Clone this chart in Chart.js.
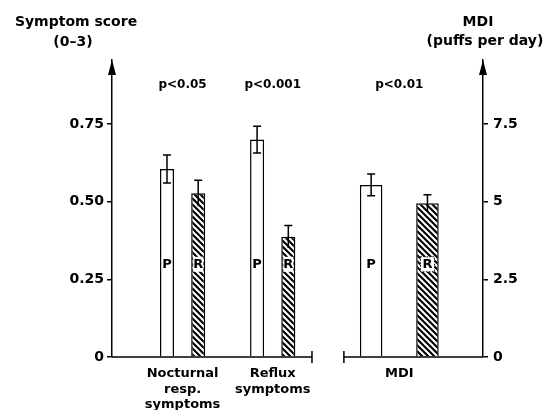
<!DOCTYPE html>
<html>
<head>
<meta charset="utf-8">
<script src="https://cdn.jsdelivr.net/npm/chart.js@4.4.1/dist/chart.umd.min.js"></script>
<style>
  html, body { margin: 0; padding: 0; background: #fff; }
  #wrap { width: 544px; height: 410px; position: relative; }
</style>
</head>
<body>
<div id="wrap"><canvas id="chart"></canvas></div>
<script>
// Values
const categories = [['Nocturnal', 'resp.', 'symptoms'], ['Reflux', 'symptoms']];
const symptomP = [0.605, 0.70];
const symptomPErr = [0.045, 0.043];
const symptomR = [0.527, 0.387];
const symptomRErr = [0.042, 0.036];
const symptomPValues = ['p<0.05', 'p<0.001'];

const mdiCategory = 'MDI';
const mdiP = [5.54];
const mdiPErr = [0.35];
const mdiR = [4.95];
const mdiRErr = [0.27];
const mdiPValues = ['p<0.01'];

const leftTicks = [0, 0.25, 0.5, 0.75];
const rightTicks = [0, 2.5, 5, 7.5];
const barLetters = ['P', 'R'];

// Layout: slot of each group along the x axis, and where the baseline breaks
const groupSlots = [1, 2];
const mdiSlots = [3.405];
const leftPanelEnd = 2.436;
const rightPanelStart = 2.79;
const letterLevel = 0.3;

const FONT = '"DejaVu Sans", sans-serif';
const canvas = document.getElementById('chart');
const ctx = canvas.getContext('2d');

function makeHatch() {
    const n = 6;
    const c = document.createElement('canvas');
    c.width = n; c.height = n;
    const g = c.getContext('2d');
    g.fillStyle = '#fff';
    g.fillRect(0, 0, n, n);
    g.strokeStyle = '#000';
    g.lineWidth = 2.1;
    g.beginPath();
    g.moveTo(-1, -1); g.lineTo(n + 1, n + 1);
    g.moveTo(-1, n - 1); g.lineTo(1, n + 1);
    g.moveTo(n - 1, -1); g.lineTo(n + 1, 1);
    g.stroke();
    return ctx.createPattern(c, 'repeat');
}
const hatch = makeHatch();

const points = (xs, ys) => ys.map((y, i) => ({ x: xs[i], y: y }));

const common = {
    borderColor: '#000',
    borderWidth: 1.5,
    skipNull: true,
    categoryPercentage: 0.693,
    barPercentage: 0.45
};

const datasets = [
    Object.assign({ label: 'P', data: points(groupSlots, symptomP), err: symptomPErr, yAxisID: 'y', backgroundColor: '#fff', letter: barLetters[0] }, common),
    Object.assign({ label: 'R', data: points(groupSlots, symptomR), err: symptomRErr, yAxisID: 'y', backgroundColor: hatch, letter: barLetters[1], hatched: true }, common),
    Object.assign({}, common, { label: 'P', data: points(mdiSlots, mdiP), err: mdiPErr, yAxisID: 'y2', backgroundColor: '#fff', letter: barLetters[0], categoryPercentage: 1.25, barPercentage: 0.40 }),
    Object.assign({}, common, { label: 'R', data: points(mdiSlots, mdiR), err: mdiRErr, yAxisID: 'y2', backgroundColor: hatch, letter: barLetters[1], hatched: true, boxed: true, categoryPercentage: 1.25, barPercentage: 0.40 })
];

const allSlots = groupSlots.concat(mdiSlots);
const allLabels = categories.concat([mdiCategory]);
const allPValues = symptomPValues.concat(mdiPValues);

const decorations = {
    id: 'decorations',
    afterDatasetsDraw(chart) {
        const c = chart.ctx;
        const area = chart.chartArea;
        const xs = chart.scales.x;
        c.save();
        c.strokeStyle = '#000';
        c.fillStyle = '#000';
        c.lineWidth = 1.5;

        // error bars and P/R letters
        chart.data.datasets.forEach((ds, di) => {
            const meta = chart.getDatasetMeta(di);
            const ys = chart.scales[ds.yAxisID];
            meta.data.forEach((bar, i) => {
                const v = ds.data[i].y;
                const top = ys.getPixelForValue(v + ds.err[i]);
                const bot = ys.getPixelForValue(v - ds.err[i]);
                c.beginPath();
                c.moveTo(bar.x, top); c.lineTo(bar.x, bot);
                c.moveTo(bar.x - 4, top); c.lineTo(bar.x + 4, top);
                if (!ds.hatched) { c.moveTo(bar.x - 4, bot); c.lineTo(bar.x + 4, bot); }
                c.stroke();

                const ly = chart.scales.y.getPixelForValue(letterLevel);
                c.font = 'bold 13px ' + FONT;
                c.textAlign = 'center';
                c.textBaseline = 'middle';
                if (ds.hatched) {
                    const w = ds.boxed ? 14 : 10;
                    c.fillStyle = '#fff';
                    c.fillRect(bar.x - w / 2, ly - 7, w, 15);
                    if (ds.boxed) {
                        c.save();
                        c.lineWidth = 1;
                        c.setLineDash([1.5, 1.5]);
                        c.strokeRect(bar.x - w / 2, ly - 7, w, 15);
                        c.restore();
                    }
                    c.fillStyle = '#000';
                }
                c.fillText(ds.letter, bar.x, ly + 1);
            });
        });

        // broken baseline with end caps
        const y0 = area.bottom;
        const xEnd = xs.getPixelForValue(leftPanelEnd);
        const xStart = xs.getPixelForValue(rightPanelStart);
        c.beginPath();
        c.moveTo(area.left, y0); c.lineTo(xEnd, y0);
        c.moveTo(xEnd, y0 - 6); c.lineTo(xEnd, y0 + 6);
        c.moveTo(xStart, y0); c.lineTo(area.right, y0);
        c.moveTo(xStart, y0 - 6); c.lineTo(xStart, y0 + 6);
        c.stroke();

        // arrow heads on both value axes
        [area.left, area.right].forEach(ax => {
            c.beginPath();
            c.moveTo(ax, area.top);
            c.lineTo(ax - 4, area.top + 15);
            c.lineTo(ax + 4, area.top + 15);
            c.closePath();
            c.fill();
        });

        // significance labels
        c.font = 'bold 12px ' + FONT;
        c.textAlign = 'center';
        c.textBaseline = 'middle';
        allSlots.forEach((s, i) => c.fillText(allPValues[i], xs.getPixelForValue(s), 85));

        // axis titles
        c.font = 'bold 14px ' + FONT;
        c.fillText('Symptom score', 76, 22);
        c.fillText('(0\u20133)', 73, 42);
        c.fillText('MDI', 478, 22);
        c.fillText('(puffs per day)', 485, 41);
        c.restore();
    }
};

new Chart(canvas, {
    type: 'bar',
    data: { datasets: datasets },
    options: {
        responsive: true,
        maintainAspectRatio: false,
        animation: false,
        layout: { padding: { top: 60, left: 0, right: 0, bottom: 0 } },
        plugins: { legend: { display: false }, tooltip: { enabled: false } },
        scales: {
            x: {
                type: 'linear',
                offset: false,
                bounds: 'data',
                min: 0.2165,
                max: 4.334,
                grid: { display: false, drawTicks: false, offset: false },
                border: { display: false },
                afterBuildTicks: scale => { scale.ticks = allSlots.map(v => ({ value: v })); },
                afterFit: scale => { scale.height = 53; },
                ticks: {
                    autoSkip: false,
                    maxRotation: 0,
                    padding: 9,
                    color: '#000',
                    font: { family: FONT, size: 13, weight: 'bold', lineHeight: 1.2 },
                    callback: (v, i) => allLabels[i]
                }
            },
            y: {
                position: 'left',
                min: 0,
                max: 0.956,
                border: { display: true, color: '#000', width: 1.5 },
                grid: { drawOnChartArea: false, tickLength: 5, color: '#000', lineWidth: 1.5 },
                afterBuildTicks: scale => { scale.ticks = leftTicks.map(v => ({ value: v })); },
                afterFit: scale => { scale.width = 112; },
                ticks: {
                    padding: 3,
                    color: '#000',
                    font: { family: FONT, size: 14, weight: 'bold' },
                    callback: v => v === 0 ? '0' : v.toFixed(2)
                }
            },
            y2: {
                position: 'right',
                min: 0,
                max: 9.56,
                border: { display: true, color: '#000', width: 1.5 },
                grid: { drawOnChartArea: false, tickLength: 5, color: '#000', lineWidth: 1.5 },
                afterBuildTicks: scale => { scale.ticks = rightTicks.map(v => ({ value: v })); },
                afterFit: scale => { scale.width = 61; },
                ticks: {
                    padding: 5,
                    color: '#000',
                    font: { family: FONT, size: 14, weight: 'bold' },
                    callback: v => String(v)
                }
            }
        }
    },
    plugins: [decorations]
});
</script>
</body>
</html>
